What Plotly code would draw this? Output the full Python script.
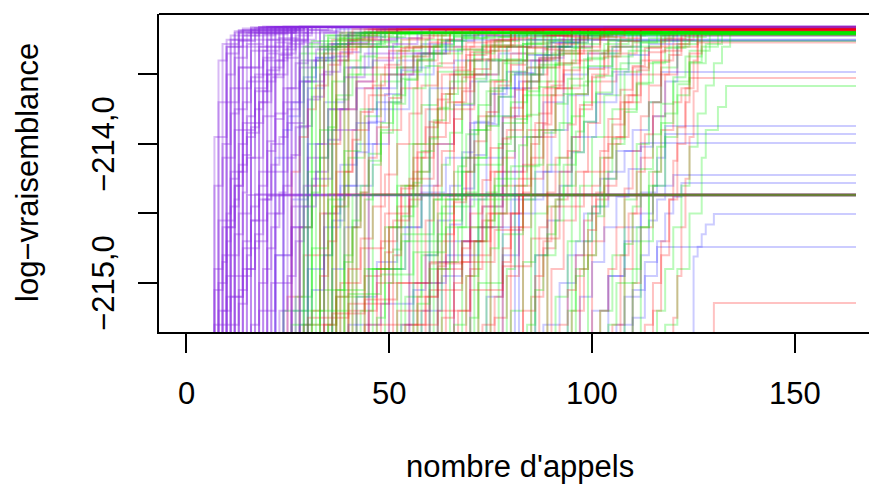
import plotly.graph_objects as go

# ---- data: each run is a list of (call number, log-likelihood reached at that call) ----
N_CALLS = 165
START_Y = -217.0   # runs start far below the visible window

PURPLE_RUNS = [
    [(8, -213.40), (10, -213.30), (14, -213.22), (22, -213.158)],
    [(9, -213.28), (13, -213.20), (27, -213.158)],
    [(10, -213.25), (16, -213.18), (28, -213.158)],
    [(11, -213.22), (18, -213.17), (27, -213.158)],
    [(12, -213.19), (29, -213.158)],
    [(13, -213.18), (26, -213.158)],
    [(14, -213.17), (28, -213.158)],
    [(15, -213.20), (24, -213.158)],
    [(16, -213.17), (30, -213.158)],
    [(17, -213.165), (29, -213.158)],
    [(18, -213.158)], [(19, -213.155)], [(20, -213.158)], [(21, -213.16)],
    [(22, -213.158)], [(24, -213.155)], [(25, -213.158)], [(26, -213.16)],
    [(27, -213.158)], [(28, -213.155)], [(29, -213.158)], [(30, -213.16)],
    [(15, -214.367)], [(17, -214.362)], [(20, -214.372)],
    [(7, -214.9), (9, -214.6), (12, -214.3), (14, -213.9), (17, -213.6), (20, -213.35), (23, -213.2), (27, -213.158)],
    [(8, -215.2), (11, -214.8), (13, -214.5), (16, -214.1), (19, -213.8), (22, -213.5), (25, -213.3), (30, -213.158)],
    [(9, -214.1), (12, -213.75), (15, -213.55), (19, -213.4), (24, -213.25), (30, -213.158)],
    [(7, -213.95), (10, -213.7), (13, -213.45), (18, -213.3), (24, -213.2), (31, -213.158)],
    [(10, -215.1), (14, -214.75), (18, -214.4), (21, -214.0), (24, -213.7), (28, -213.4), (33, -213.2), (37, -213.158)],
    [(12, -214.95), (16, -214.55), (20, -214.2), (25, -213.85), (29, -213.55), (34, -213.3), (40, -213.158)],
    [(18, -215.2), (22, -214.8), (26, -214.45), (30, -214.1), (35, -213.75), (40, -213.45), (46, -213.25), (52, -213.158)],
    [(8, -214.55), (11, -214.2), (14, -213.85), (17, -213.5), (21, -213.3), (26, -213.158)],
    [(21, -215.0), (26, -214.6), (31, -214.25), (36, -213.9), (42, -213.6), (50, -213.35), (60, -213.2), (75, -213.158)],
    [(7, -215.3), (8, -215.0), (10, -214.7), (11, -214.45), (13, -214.2), (15, -213.95), (17, -213.75), (19, -213.55), (22, -213.4), (25, -213.28), (29, -213.2), (33, -213.158)],
    [(9, -215.2), (10, -214.95), (12, -214.65), (14, -214.35), (15, -214.1), (17, -213.85), (19, -213.62), (21, -213.45), (24, -213.32), (27, -213.22), (31, -213.158)],
    [(11, -215.3), (13, -215.05), (15, -214.8), (16, -214.55), (18, -214.3), (20, -214.05), (22, -213.82), (24, -213.6), (27, -213.42), (30, -213.3), (34, -213.2), (39, -213.158)],
    [(7, -214.3), (9, -214.0), (11, -213.78), (13, -213.6), (16, -213.45), (19, -213.33), (23, -213.24), (28, -213.158)],
    [(8, -213.7), (10, -213.5), (12, -213.38), (15, -213.28), (19, -213.21), (25, -213.158)],
    [(10, -214.5), (11, -214.25), (13, -214.0), (15, -213.8), (17, -213.62), (20, -213.47), (23, -213.35), (27, -213.25), (32, -213.18), (36, -213.158)],
    [(13, -215.15), (15, -214.9), (17, -214.65), (19, -214.4), (21, -214.15), (23, -213.95), (25, -213.75), (28, -213.55), (31, -213.4), (35, -213.28), (40, -213.2), (46, -213.158)],
    [(14, -214.7), (16, -214.45), (18, -214.2), (20, -213.98), (22, -213.78), (25, -213.6), (28, -213.45), (32, -213.32), (37, -213.22), (43, -213.158)],
    [(16, -215.3), (18, -215.0), (20, -214.75), (22, -214.5), (24, -214.3), (26, -214.08), (28, -213.87), (31, -213.66), (34, -213.48), (38, -213.34), (43, -213.23), (49, -213.158)],
    [(12, -213.9), (14, -213.7), (16, -213.52), (19, -213.38), (22, -213.27), (26, -213.2), (30, -213.158)],
    [(9, -214.8), (11, -214.55), (12, -214.3), (14, -214.08), (16, -213.88), (18, -213.7), (21, -213.52), (24, -213.38), (28, -213.27), (33, -213.19), (38, -213.158)],
    [(19, -214.9), (21, -214.6), (23, -214.35), (25, -214.1), (27, -213.88), (30, -213.68), (33, -213.5), (36, -213.37), (40, -213.27), (45, -213.2), (52, -213.158)],
    [(23, -215.2), (25, -214.95), (27, -214.7), (29, -214.45), (32, -214.2), (35, -213.97), (38, -213.75), (42, -213.55), (46, -213.4), (51, -213.28), (57, -213.2), (64, -213.158)],
    [(10, -213.35), (13, -213.26), (17, -213.2), (23, -213.158)],
    [(11, -213.6), (13, -213.45), (16, -213.33), (20, -213.25), (26, -213.18), (32, -213.158)],
    [(26, -214.6), (29, -214.3), (32, -214.0), (35, -213.75), (39, -213.52), (44, -213.35), (50, -213.24), (58, -213.17)],
    [(7, -215.05), (9, -214.85), (10, -214.6), (12, -214.4), (13, -214.15), (15, -213.92), (18, -213.7), (20, -213.5), (23, -213.36), (26, -213.26), (30, -213.18), (35, -213.158)],
    [(8, -215.3), (11, -215.1), (14, -214.9), (17, -214.7), (20, -214.5), (23, -214.367)],
    [(10, -213.3), (21, -213.158)], [(11, -213.25), (23, -213.158)], [(12, -213.2), (25, -213.158)],
    [(13, -213.19), (27, -213.158)], [(14, -213.18), (29, -213.158)], [(16, -213.16)],
    [(18, -213.158)], [(20, -213.158)], [(22, -213.158)], [(24, -213.158)], [(26, -213.158)], [(28, -213.158)],
]

RED_RUNS = [
    [(33, -213.3), (38, -213.2), (45, -213.175)],
    [(36, -213.25), (44, -213.175)],
    [(39, -213.22), (47, -213.19), (55, -213.175)],
    [(42, -213.3), (50, -213.2), (60, -213.175)],
    [(45, -214.367)],
    [(25, -215.1), (29, -214.8), (33, -214.5), (37, -214.2), (41, -213.9), (45, -213.65), (50, -213.45), (56, -213.3), (63, -213.2), (72, -213.175)],
    [(28, -214.6), (31, -214.3), (35, -214.0), (38, -213.75), (42, -213.55), (47, -213.38), (53, -213.25), (60, -213.175)],
    [(40, -215.2), (44, -214.95), (48, -214.7), (52, -214.45), (56, -214.2), (60, -213.95), (64, -213.7), (69, -213.5), (75, -213.3), (82, -213.2), (90, -213.158)],
    [(47, -214.9), (50, -214.6), (53, -214.3), (56, -214.0), (59, -213.75), (63, -213.5), (68, -213.32), (74, -213.22), (80, -213.158)],
    [(52, -215.3), (57, -215.1), (62, -214.9), (68, -214.7), (74, -214.5), (79, -214.2), (84, -213.9), (88, -213.6), (92, -213.35), (97, -213.2), (103, -213.158)],
    [(55, -214.4), (58, -214.1), (61, -213.85), (65, -213.6), (70, -213.4), (76, -213.25), (84, -213.17)],
    [(60, -215.0), (63, -214.7), (66, -214.4), (69, -214.1), (72, -213.8), (76, -213.55), (80, -213.35), (86, -213.22), (94, -213.158)],
    [(64, -214.372)],
    [(67, -215.2), (70, -214.9), (73, -214.55), (76, -214.2), (79, -213.9), (83, -213.6), (87, -213.38), (92, -213.25), (99, -213.158)],
    [(72, -214.8), (75, -214.45), (78, -214.1), (81, -213.8), (85, -213.5), (89, -213.3), (95, -213.2), (102, -213.158)],
    [(76, -215.25), (79, -214.95), (82, -214.6), (85, -214.25), (88, -213.9), (91, -213.6), (95, -213.4), (100, -213.25), (106, -213.158)],
    [(80, -214.5), (83, -214.15), (86, -213.85), (89, -213.55), (93, -213.35), (98, -213.22), (105, -213.17)],
    [(85, -215.1), (88, -214.75), (91, -214.4), (94, -214.05), (97, -213.75), (100, -213.5), (104, -213.3), (110, -213.2), (116, -213.158)],
    [(90, -214.9), (93, -214.55), (96, -214.2), (99, -213.85), (102, -213.55), (106, -213.35), (111, -213.2), (117, -213.158)],
    [(95, -215.2), (98, -214.8), (101, -214.4), (104, -214.0), (107, -213.7), (110, -213.45), (114, -213.3), (119, -213.2), (124, -213.165)],
    [(100, -214.7), (103, -214.3), (106, -213.95), (109, -213.65), (112, -213.4), (117, -213.25), (122, -213.17)],
    [(105, -215.3), (108, -214.9), (110, -214.5), (112, -214.1), (115, -213.8), (118, -213.5), (121, -213.3), (126, -213.2)],
    [(110, -215.0), (112, -214.6), (115, -214.2), (117, -213.9), (120, -213.7), (122, -213.6), (124, -213.525)],
    [(130, -215.144)],
    [(115, -215.2), (117, -214.8), (119, -214.4), (121, -214.0), (123, -213.6), (124, -213.35), (126, -213.2)],
    [(30, -215.25), (40, -215.15), (50, -215.0), (60, -214.85), (70, -214.6), (78, -214.3), (85, -213.95), (91, -213.6), (97, -213.35), (104, -213.2), (110, -213.158)],
    [(35, -214.362)],
    [(44, -215.3), (52, -215.2), (60, -215.05), (68, -214.85), (76, -214.62), (83, -214.367)],
    [(50, -213.9), (53, -213.6), (57, -213.4), (62, -213.25), (68, -213.175)],
    [(38, -215.0), (43, -214.75), (49, -214.5), (55, -214.25), (61, -214.0), (66, -213.75), (71, -213.5), (77, -213.3), (85, -213.2), (93, -213.158)],
    [(57, -213.35), (65, -213.2), (74, -213.175)],
    [(62, -213.45), (69, -213.27), (78, -213.158)],
    [(70, -213.3), (80, -213.158)],
    [(83, -213.4), (90, -213.22), (98, -213.158)],
    [(48, -213.5), (54, -213.3), (62, -213.2), (70, -213.175)],
    [(26, -214.2), (28, -213.95), (30, -213.75), (32, -213.58), (35, -213.43), (38, -213.32), (42, -213.24), (47, -213.19), (53, -213.175)],
    [(31, -215.2), (33, -214.95), (35, -214.7), (37, -214.45), (39, -214.2), (41, -213.97), (43, -213.77), (46, -213.58), (49, -213.43), (53, -213.31), (58, -213.22), (64, -213.175)],
    [(34, -215.3), (37, -215.1), (40, -214.9), (43, -214.68), (46, -214.45), (49, -214.22), (52, -214.0), (55, -213.78), (58, -213.58), (62, -213.42), (66, -213.3), (71, -213.21), (77, -213.158)],
    [(41, -214.6), (43, -214.35), (45, -214.1), (47, -213.88), (50, -213.67), (53, -213.5), (56, -213.37), (60, -213.27), (65, -213.2), (71, -213.175)],
    [(45, -215.2), (47, -215.0), (49, -214.78), (51, -214.55), (53, -214.32), (56, -214.1), (59, -213.88), (62, -213.68), (65, -213.5), (69, -213.36), (74, -213.26), (80, -213.19), (87, -213.158)],
    [(51, -214.8), (53, -214.55), (55, -214.3), (57, -214.06), (60, -213.84), (63, -213.64), (66, -213.47), (70, -213.34), (75, -213.25), (81, -213.19), (88, -213.158)],
    [(56, -215.3), (59, -215.1), (62, -214.88), (64, -214.65), (66, -214.42), (69, -214.2), (71, -213.98), (74, -213.77), (77, -213.58), (80, -213.43), (84, -213.31), (89, -213.22), (95, -213.158)],
    [(59, -214.55), (61, -214.3), (63, -214.05), (66, -213.82), (68, -213.62), (71, -213.46), (75, -213.33), (80, -213.24), (86, -213.18)],
    [(63, -215.25), (66, -215.0), (68, -214.75), (70, -214.5), (73, -214.26), (75, -214.03), (78, -213.81), (81, -213.61), (84, -213.45), (88, -213.32), (93, -213.23), (99, -213.158)],
    [(69, -214.95), (71, -214.7), (73, -214.45), (75, -214.2), (78, -213.96), (80, -213.74), (83, -213.55), (87, -213.39), (91, -213.28), (96, -213.2), (102, -213.165)],
    [(73, -215.3), (76, -215.1), (78, -214.85), (80, -214.6), (83, -214.35), (85, -214.1), (88, -213.86), (90, -213.65), (93, -213.47), (97, -213.33), (102, -213.23), (108, -213.158)],
    [(78, -214.75), (80, -214.5), (82, -214.25), (85, -214.0), (87, -213.78), (90, -213.58), (93, -213.42), (97, -213.3), (102, -213.21), (108, -213.158)],
    [(83, -215.2), (86, -214.95), (88, -214.7), (90, -214.45), (92, -214.2), (95, -213.95), (97, -213.72), (100, -213.52), (103, -213.37), (107, -213.26), (112, -213.158)],
    [(87, -214.6), (89, -214.35), (91, -214.1), (94, -213.86), (96, -213.64), (99, -213.46), (103, -213.33), (107, -213.24), (112, -213.17)],
    [(92, -215.3), (94, -215.05), (96, -214.8), (98, -214.55), (100, -214.3), (102, -214.05), (104, -213.82), (107, -213.61), (110, -213.44), (113, -213.31), (117, -213.22), (121, -213.158)],
    [(97, -214.9), (99, -214.62), (101, -214.35), (103, -214.1), (105, -213.86), (108, -213.65), (111, -213.47), (114, -213.34), (118, -213.24), (123, -213.18)],
    [(102, -215.2), (104, -214.9), (106, -214.6), (108, -214.32), (110, -214.05), (112, -213.8), (114, -213.58), (117, -213.4), (120, -213.28), (124, -213.2), (127, -213.158)],
    [(107, -214.8), (109, -214.5), (111, -214.2), (113, -213.93), (115, -213.7), (117, -213.5), (119, -213.36), (122, -213.25), (125, -213.19)],
    [(113, -215.3), (115, -215.0), (117, -214.7), (119, -214.4), (120, -214.12), (121, -213.88), (123, -213.7), (124, -213.6), (125, -213.4), (126, -213.27)],
    [(120, -215.25), (121, -214.95), (122, -214.6), (123, -214.25), (124, -213.95), (125, -213.62), (126, -213.35), (127, -213.2)],
    [(29, -215.3), (36, -215.22), (44, -215.12), (52, -215.0), (60, -214.86), (68, -214.7), (75, -214.5), (82, -214.367)],
    [(54, -215.3), (62, -215.2), (70, -215.05), (78, -214.88), (85, -214.68), (92, -214.45), (98, -214.2), (103, -213.95), (108, -213.7), (112, -213.5), (117, -213.33), (122, -213.22)],
    [(37, -213.4), (40, -213.28), (45, -213.2), (52, -213.175)],
    [(44, -213.6), (46, -213.45), (50, -213.33), (55, -213.24), (61, -213.18)],
    [(66, -213.7), (68, -213.52), (71, -213.39), (75, -213.29), (81, -213.2), (88, -213.158)],
    [(75, -213.55), (78, -213.4), (82, -213.3), (88, -213.22), (95, -213.158)],
    [(89, -213.45), (92, -213.33), (97, -213.24), (103, -213.158)],
    [(34, -213.35), (41, -213.175)], [(37, -213.3), (46, -213.175)], [(40, -213.25), (50, -213.175)],
]

GREEN_RUNS = [
    [(28, -213.35), (35, -213.22), (44, -213.20)],
    [(30, -213.28), (40, -213.20)],
    [(32, -213.40), (37, -213.25), (46, -213.20)],
    [(34, -213.22), (48, -213.20)],
    [(36, -213.30), (43, -213.20)],
    [(38, -214.367)],
    [(40, -213.26), (52, -213.20)],
    [(42, -213.5), (47, -213.3), (55, -213.2)],
    [(27, -215.1), (31, -214.75), (35, -214.4), (39, -214.05), (43, -213.75), (47, -213.5), (52, -213.33), (58, -213.22), (65, -213.20)],
    [(33, -214.8), (36, -214.45), (40, -214.1), (44, -213.8), (48, -213.55), (53, -213.37), (59, -213.25), (66, -213.2)],
    [(43, -215.2), (46, -214.9), (50, -214.6), (54, -214.3), (58, -214.0), (62, -213.75), (66, -213.5), (71, -213.33), (77, -213.23), (84, -213.2)],
    [(49, -214.6), (52, -214.3), (55, -214.0), (58, -213.72), (62, -213.48), (67, -213.32), (73, -213.23), (80, -213.2)],
    [(54, -215.1), (58, -214.8), (62, -214.5), (66, -214.2), (70, -213.9), (74, -213.62), (78, -213.42), (83, -213.28), (90, -213.2)],
    [(58, -214.372)],
    [(62, -214.9), (65, -214.55), (68, -214.2), (71, -213.9), (75, -213.6), (79, -213.4), (84, -213.27), (91, -213.2)],
    [(66, -215.3), (69, -214.95), (72, -214.6), (76, -214.25), (79, -213.95), (83, -213.65), (87, -213.43), (92, -213.3), (98, -213.22), (104, -213.2)],
    [(71, -214.7), (74, -214.35), (77, -214.0), (80, -213.7), (84, -213.45), (89, -213.3), (95, -213.2)],
    [(75, -215.0), (78, -214.65), (81, -214.3), (84, -213.95), (87, -213.65), (91, -213.42), (96, -213.28), (102, -213.2)],
    [(80, -215.2), (83, -214.85), (86, -214.5), (89, -214.15), (92, -213.85), (95, -213.58), (99, -213.38), (104, -213.26)],
    [(86, -214.8), (89, -214.45), (92, -214.1), (95, -213.8), (98, -213.55), (102, -213.35), (107, -213.22), (113, -213.2)],
    [(91, -215.1), (94, -214.7), (97, -214.3), (100, -213.95), (103, -213.65), (107, -213.42), (112, -213.27), (118, -213.2)],
    [(96, -214.9), (99, -214.5), (102, -214.1), (105, -213.75), (108, -213.48), (112, -213.3), (117, -213.22), (123, -213.2)],
    [(102, -215.2), (105, -214.8), (108, -214.4), (111, -214.0), (114, -213.7), (117, -213.45), (121, -213.28), (126, -213.2)],
    [(108, -215.0), (111, -214.6), (114, -214.2), (117, -213.85), (120, -213.55), (124, -213.33), (129, -213.21)],
    [(118, -215.3), (121, -214.9), (124, -214.5), (127, -214.1), (128, -213.9), (131, -213.734), (133, -213.583)],
    [(46, -214.362)],
    [(24, -215.2), (34, -215.05), (44, -214.9), (54, -214.7), (63, -214.45), (71, -214.15), (78, -213.85), (84, -213.55), (90, -213.35), (97, -213.22), (105, -213.2)],
    [(52, -213.45), (56, -213.3), (63, -213.22), (70, -213.2)],
    [(60, -213.35), (68, -213.24), (76, -213.2)],
    [(68, -213.5), (73, -213.3), (80, -213.205)],
    [(77, -213.4), (84, -213.25), (92, -213.2)],
    [(37, -215.1), (45, -214.9), (53, -214.65), (61, -214.4), (68, -214.1), (74, -213.8), (80, -213.5), (86, -213.3), (94, -213.2)],
    [(30, -214.2), (33, -213.9), (37, -213.65), (41, -213.45), (46, -213.3), (53, -213.2)],
    [(112, -214.7), (115, -214.3), (118, -213.95), (121, -213.65), (124, -213.42), (128, -213.28), (132, -213.2)],
    [(29, -214.6), (31, -214.35), (33, -214.1), (35, -213.88), (37, -213.68), (40, -213.5), (43, -213.37), (47, -213.27), (52, -213.21), (58, -213.2)],
    [(35, -215.3), (37, -215.05), (39, -214.8), (41, -214.55), (43, -214.3), (45, -214.07), (48, -213.85), (51, -213.65), (54, -213.48), (58, -213.35), (63, -213.26), (69, -213.2)],
    [(39, -214.85), (41, -214.6), (43, -214.35), (45, -214.12), (48, -213.9), (50, -213.7), (53, -213.53), (57, -213.39), (61, -213.29), (66, -213.22), (72, -213.2)],
    [(44, -214.4), (46, -214.15), (48, -213.92), (51, -213.71), (54, -213.54), (57, -213.4), (61, -213.3), (66, -213.23), (72, -213.2)],
    [(47, -215.25), (49, -215.0), (51, -214.76), (53, -214.52), (56, -214.28), (58, -214.05), (61, -213.83), (64, -213.64), (67, -213.48), (71, -213.35), (76, -213.26), (82, -213.21)],
    [(53, -214.7), (55, -214.45), (57, -214.2), (60, -213.96), (62, -213.74), (65, -213.55), (69, -213.4), (73, -213.29), (78, -213.22), (84, -213.2)],
    [(57, -215.15), (60, -214.9), (62, -214.65), (64, -214.4), (67, -214.16), (69, -213.93), (72, -213.72), (75, -213.54), (79, -213.39), (83, -213.28), (88, -213.21)],
    [(61, -214.4), (63, -214.15), (65, -213.92), (68, -213.71), (71, -213.53), (74, -213.39), (78, -213.29), (83, -213.22), (89, -213.2)],
    [(65, -214.85), (67, -214.6), (69, -214.35), (72, -214.1), (74, -213.87), (77, -213.66), (80, -213.48), (84, -213.35), (89, -213.26), (95, -213.2)],
    [(70, -215.25), (72, -215.0), (75, -214.75), (77, -214.5), (79, -214.25), (82, -214.01), (84, -213.79), (87, -213.59), (91, -213.43), (95, -213.31), (100, -213.23), (106, -213.2)],
    [(74, -214.55), (76, -214.3), (79, -214.05), (81, -213.82), (84, -213.62), (87, -213.45), (91, -213.33), (96, -213.24), (102, -213.2)],
    [(79, -214.9), (81, -214.65), (83, -214.4), (86, -214.15), (88, -213.92), (91, -213.71), (94, -213.53), (98, -213.39), (103, -213.28), (109, -213.21)],
    [(84, -215.3), (86, -215.05), (88, -214.8), (91, -214.55), (93, -214.3), (96, -214.06), (98, -213.84), (101, -213.63), (105, -213.46), (109, -213.33), (114, -213.24), (120, -213.2)],
    [(89, -214.65), (91, -214.4), (93, -214.15), (96, -213.91), (98, -213.7), (101, -213.51), (105, -213.37), (110, -213.27), (116, -213.2)],
    [(94, -215.2), (96, -214.95), (98, -214.7), (100, -214.45), (103, -214.2), (105, -213.96), (108, -213.75), (111, -213.56), (115, -213.41), (119, -213.3), (124, -213.205)],
    [(99, -214.8), (101, -214.52), (103, -214.25), (106, -214.0), (108, -213.77), (111, -213.57), (114, -213.42), (118, -213.31), (123, -213.23), (128, -213.2)],
    [(104, -215.3), (106, -215.0), (108, -214.72), (110, -214.45), (112, -214.18), (115, -213.93), (117, -213.71), (120, -213.52), (123, -213.37), (127, -213.21)],
    [(110, -214.9), (112, -214.6), (114, -214.3), (116, -214.02), (118, -213.78), (121, -213.57), (124, -213.41), (127, -213.3), (131, -213.205)],
    [(116, -215.2), (118, -214.9), (120, -214.6), (122, -214.3), (124, -214.02), (126, -213.78), (128, -213.58), (130, -213.42), (132, -213.3), (134, -213.21)],
    [(31, -213.45), (34, -213.32), (38, -213.24), (43, -213.2)],
    [(36, -213.55), (39, -213.4), (43, -213.3), (48, -213.23), (54, -213.2)],
    [(41, -214.367)],
    [(63, -214.367)],
    [(26, -215.3), (33, -215.2), (40, -215.08), (48, -214.94), (56, -214.78), (64, -214.6), (72, -214.4), (80, -214.16), (87, -213.9), (93, -213.64), (99, -213.44), (105, -213.3), (112, -213.22), (119, -213.2)],
    [(56, -213.6), (59, -213.44), (63, -213.32), (68, -213.24), (74, -213.2)],
    [(72, -213.55), (75, -213.4), (79, -213.3), (85, -213.23), (91, -213.2)],
    [(85, -213.5), (88, -213.36), (93, -213.27), (99, -213.21)],
    [(95, -213.45), (99, -213.33), (104, -213.25), (110, -213.2)],
    [(29, -213.3), (38, -213.2)], [(31, -213.26), (42, -213.205)], [(33, -213.3), (45, -213.2)],
    [(35, -213.24), (44, -213.195)], [(37, -213.28), (49, -213.2)], [(39, -213.22), (51, -213.205)],
]

BLUE_RUNS = [
    [(22, -214.8), (26, -214.4), (30, -214.0), (34, -213.7), (39, -213.45), (45, -213.3), (52, -213.2), (60, -213.175)],
    [(26, -215.2), (30, -214.9), (34, -214.6), (38, -214.3), (42, -214.0), (47, -213.7), (53, -213.45), (60, -213.3), (68, -213.22)],
    [(22, -214.1), (25, -213.8), (28, -213.55), (32, -213.38), (37, -213.175)],
    [(34, -214.5), (38, -214.15), (42, -213.85), (47, -213.6), (52, -213.4), (58, -213.28), (66, -213.175)],
    [(42, -215.1), (47, -214.85), (52, -214.6), (58, -214.35), (64, -214.1), (70, -213.85), (76, -213.6), (82, -213.4), (89, -213.27), (97, -213.158)],
    [(50, -214.9), (54, -214.6), (58, -214.3), (62, -214.0), (66, -213.72), (71, -213.5), (77, -213.35), (84, -213.25)],
    [(58, -215.2), (63, -214.95), (68, -214.7), (73, -214.45), (78, -214.2), (83, -213.95), (88, -213.7), (93, -213.5), (99, -213.35), (106, -213.26)],
    [(66, -214.7), (70, -214.4), (74, -214.1), (78, -213.8), (82, -213.55), (87, -213.38), (93, -213.158)],
    [(74, -215.1), (78, -214.8), (82, -214.5), (86, -214.2), (90, -213.9), (94, -213.65), (99, -213.45), (105, -213.3), (112, -213.158)],
    [(82, -214.367)],
    [(88, -215.3), (92, -215.0), (96, -214.7), (100, -214.45), (104, -214.2), (108, -214.05), (112, -213.993)],
    [(94, -214.8), (98, -214.5), (102, -214.25), (106, -214.05), (110, -213.9), (114, -213.7), (117, -213.482)],
    [(100, -215.2), (104, -214.95), (108, -214.7), (112, -214.5), (115, -214.3), (118, -213.871)],
    [(104, -214.95), (108, -214.6), (112, -214.35), (116, -214.1), (118, -213.928)],
    [(106, -215.3), (110, -215.05), (113, -214.85), (116, -214.741)],
    [(108, -215.1), (112, -214.8), (114, -214.55), (116, -214.4), (118, -214.3), (120, -214.223)],
    [(110, -215.25), (113, -214.95), (116, -214.7), (118, -214.5), (120, -214.38), (122, -214.281)],
    [(125, -214.81), (126, -214.74), (127, -214.65), (128, -214.58), (130, -214.504)],
    [(30, -213.6), (34, -213.4), (40, -213.28), (48, -213.175)],
    [(45, -213.75), (50, -213.5), (56, -213.35), (64, -213.25)],
    [(40, -215.3), (48, -215.15), (56, -215.0), (64, -214.8), (72, -214.6), (80, -214.4), (88, -214.2), (95, -213.95), (101, -213.7), (106, -213.5), (112, -213.158)],
    [(55, -214.362)],
    [(78, -213.6), (85, -213.4), (92, -213.3), (100, -213.158)],
    [(24, -213.9), (26, -213.7), (29, -213.52), (32, -213.38), (36, -213.28), (41, -213.2), (47, -213.175)],
    [(28, -215.3), (31, -215.05), (34, -214.8), (36, -214.55), (39, -214.3), (42, -214.06), (45, -213.84), (49, -213.64), (53, -213.47), (58, -213.35), (64, -213.26), (71, -213.175)],
    [(36, -214.9), (39, -214.6), (42, -214.3), (46, -214.0), (50, -213.75), (55, -213.5), (61, -213.33), (68, -213.22)],
    [(53, -215.3), (56, -215.05), (59, -214.8), (62, -214.55), (65, -214.3), (68, -214.06), (71, -213.84), (75, -213.64), (79, -213.48), (84, -213.36), (90, -213.27), (97, -213.158)],
    [(62, -214.85), (65, -214.58), (68, -214.32), (71, -214.08), (74, -213.86), (77, -213.66), (81, -213.49), (86, -213.36), (92, -213.27), (99, -213.158)],
    [(70, -213.55), (74, -213.4), (79, -213.3), (86, -213.158)],
    [(86, -214.8), (89, -214.55), (92, -214.3), (95, -214.06), (98, -213.84), (101, -213.64), (105, -213.48), (109, -213.36), (114, -213.28), (120, -213.158)],
    [(97, -215.1), (100, -214.85), (103, -214.6), (106, -214.38), (109, -214.18), (112, -214.02), (115, -213.8), (118, -213.55), (121, -213.175)],
    [(60, -213.6), (66, -213.4), (73, -213.175)], [(81, -213.5), (88, -213.3), (95, -213.158)],
]

X_TICKS = [0, 50, 100, 150]
Y_TICKS = [-213.5, -214.0, -214.5, -215.0]
Y_TICK_TEXT = {-214.0: "−214,0", -215.0: "−215,0"}
X_TITLE = "nombre d'appels"
Y_TITLE = "log−vraisemblance"

GROUPS = [
    (PURPLE_RUNS, "rgba(138,43,226,0.33)"),
    (GREEN_RUNS, "rgba(0,235,0,0.27)"),
    (RED_RUNS, "rgba(255,0,0,0.24)"),
    (BLUE_RUNS, "rgba(0,0,255,0.2)"),
]

fig = go.Figure()
n_max = max(len(g[0]) for g in GROUPS)
for i in range(n_max):               # runs of the four methods drawn interleaved
    for runs, color in GROUPS:
        if i >= len(runs):
            continue
        run = runs[i]
        xs = [0] + [p[0] for p in run] + [N_CALLS]
        ys = [START_Y] + [p[1] for p in run] + [run[-1][1]]
        fig.add_trace(go.Scatter(
            x=xs, y=ys, mode="lines",
            line=dict(color=color, width=2.0, shape="hv"),
            hoverinfo="skip", showlegend=False,
        ))

# plot area in pixels: x 159..869, y 14..332
L, R, T, B = 159, 869, 14, 332
W, H = R - L, B - T
X_RANGE = [-6.65, 168.2]
Y_RANGE = [-215.353, -213.065]

def paper_x(px):
    return (px - L) / W

def paper_y(py):
    return (B - py) / H

FONT = "Liberation Sans, Arial, sans-serif"
FS = 31

annotations = []
for v in X_TICKS:
    annotations.append(dict(
        x=v, xref="x", y=paper_y(393), yref="paper", text=str(v),
        showarrow=False, xanchor="center", yanchor="middle",
        font=dict(family=FONT, size=FS, color="black")))
for v, t in Y_TICK_TEXT.items():
    annotations.append(dict(
        x=paper_x(104), xref="paper", y=v, yref="y", text=t, textangle=-90,
        showarrow=False, xanchor="center", yanchor="middle",
        font=dict(family=FONT, size=FS, color="black")))
annotations.append(dict(
    x=paper_x(520), xref="paper", y=paper_y(466), yref="paper", text=X_TITLE,
    showarrow=False, xanchor="center", yanchor="middle",
    font=dict(family=FONT, size=FS, color="black")))
annotations.append(dict(
    x=paper_x(27), xref="paper", y=paper_y(173), yref="paper", text=Y_TITLE,
    textangle=-90, showarrow=False, xanchor="center", yanchor="middle",
    font=dict(family=FONT, size=FS, color="black")))

fig.update_layout(
    width=869, height=486,
    margin=dict(l=L, r=869 - R, t=T, b=486 - B, pad=0),
    paper_bgcolor="white", plot_bgcolor="white",
    showlegend=False,
    xaxis=dict(range=X_RANGE, showgrid=False, zeroline=False,
               showline=True, linecolor="black", linewidth=2,
               ticks="outside", tickvals=X_TICKS, ticklen=19, tickwidth=2,
               tickcolor="black", showticklabels=False),
    yaxis=dict(range=Y_RANGE, showgrid=False, zeroline=False,
               showline=True, linecolor="black", linewidth=2,
               ticks="outside", tickvals=Y_TICKS, ticklen=19, tickwidth=2,
               tickcolor="black", showticklabels=False),
    shapes=[dict(type="line", xref="paper", yref="paper", x0=0, x1=1, y0=1, y1=1,
                 line=dict(color="black", width=2))],
    annotations=annotations,
)

fig.write_html("out.html")
